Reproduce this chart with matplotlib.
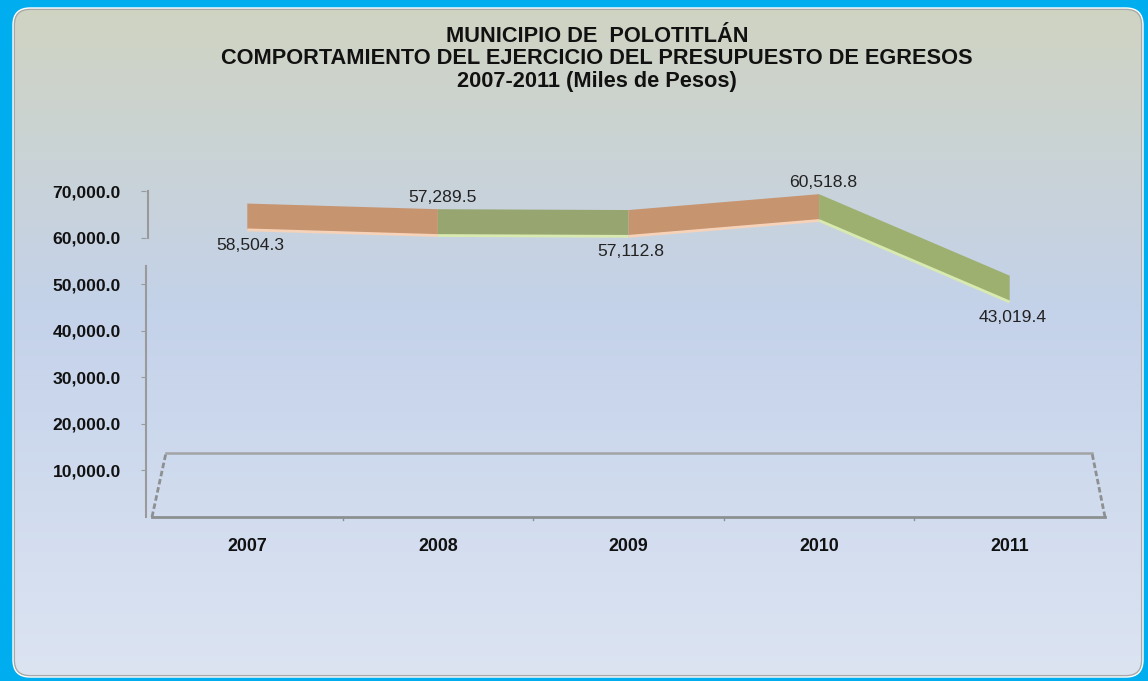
import numpy as np
import matplotlib
matplotlib.use("Agg")
import matplotlib.pyplot as plt
from matplotlib.patches import FancyBboxPatch, Polygon
from matplotlib.colors import LinearSegmentedColormap

# ---------------- data ----------------
years = ["2007", "2008", "2009", "2010", "2011"]
values = [58504.3, 57289.5, 57112.8, 60518.8, 43019.4]
value_labels = ["58,504.3", "57,289.5", "57,112.8", "60,518.8", "43,019.4"]
yticks = [10000, 20000, 30000, 40000, 50000, 60000, 70000]
ytick_labels = ["10,000.0", "20,000.0", "30,000.0", "40,000.0", "50,000.0", "60,000.0", "70,000.0"]
title_lines = ["MUNICIPIO DE  POLOTITLÁN",
               "COMPORTAMIENTO DEL EJERCICIO DEL PRESUPUESTO DE EGRESOS",
               "2007-2011 (Miles de Pesos)"]
segment_colors = ["#C79470", "#97A670", "#C79470", "#9DB070"]
edge_colors = ["#F6D2B8", "#D8EAB0", "#F6D2B8", "#D8EAB0"]
label_above = [False, True, False, True, False]

plt.rcParams['font.family'] = ['Liberation Sans', 'DejaVu Sans']

W, H = 1148, 681
fig = plt.figure(figsize=(W / 100, H / 100), dpi=100)
fig.patch.set_facecolor("#00AEEF")

# background panel with gradient
bg = fig.add_axes([0, 0, 1, 1], zorder=0)
bg.set_xlim(0, W)
bg.set_ylim(H, 0)
bg.axis("off")
x0, y0, x1, y1 = 14, 9, 1142, 676
cmap = LinearSegmentedColormap.from_list("bg", [(0, "#D0D4C2"), (0.45, "#C4D2EA"), (1, "#DCE4F2")])
grad = np.linspace(0, 1, 256).reshape(-1, 1)
im = bg.imshow(grad, cmap=cmap, extent=[x0, x1, y1, y0], aspect="auto", zorder=1)
panel = FancyBboxPatch((x0, y0), x1 - x0, y1 - y0, boxstyle="round,pad=0,rounding_size=16",
                       facecolor="none", edgecolor="#A8A8A8", lw=1.5, zorder=2)
bg.add_patch(panel)
im.set_clip_path(panel)
white = FancyBboxPatch((x0 - 1, y0 - 1), x1 - x0 + 2, y1 - y0 + 2, boxstyle="round,pad=0,rounding_size=17",
                       facecolor="none", edgecolor="white", lw=1.0, zorder=2)
bg.add_patch(white)

# title
for i, t in enumerate(title_lines):
    fig.text(597 / W, 1 - (36 + 22.5 * i) / H, t, ha="center", va="center",
             fontsize=15.7, fontweight="bold", color="#111111")

# main axes (pixel box: x 152..1105, y 191..517)
L, R, T, B = 152, 1105, 191, 517
ax = fig.add_axes([L / W, 1 - B / H, (R - L) / W, (B - T) / H], zorder=2)
ax.set_facecolor("none")
ax.set_xlim(-0.5, len(years) - 0.5)
ax.set_ylim(0, 70000)
for s in ["top", "right", "bottom"]:
    ax.spines[s].set_visible(False)
ax.spines["left"].set_position(("outward", 4))
ax.spines["left"].set_color("#9A9A9A")
ax.spines["left"].set_linewidth(1.5)
ax.spines["left"].set_bounds(0, 54000)
ax.plot([-0.5 - 4 / 190.6, -0.5 - 4 / 190.6], [60000, 70000], color="#9A9A9A", lw=1.5,
        clip_on=False, zorder=3)
ax.set_yticks(yticks)
ax.set_yticklabels(ytick_labels, fontsize=12.6, fontweight="bold", color="#111111")
ax.tick_params(axis="y", length=3.5, color="#9A9A9A", pad=15)
ax.set_xticks(range(len(years)))
ax.set_xticklabels(years, fontsize=12.8, fontweight="bold", color="#111111")
ax.tick_params(axis="x", length=0, pad=15)

# 3D floor decoration
floor_back = 13700
ax.plot([-0.5, 4.5], [0, 0], color="#8C9090", lw=2, clip_on=False, zorder=3)
for xb in [0.5, 1.5, 2.5, 3.5]:
    ax.plot([xb, xb], [0, -700], color="#8C9090", lw=1, clip_on=False, zorder=3)
ax.plot([-0.427, 4.432], [floor_back, floor_back], color="#A0A4A4", lw=1.8, zorder=3)
ax.plot([-0.5, -0.427], [0, floor_back], color="#8C9090", lw=2, ls=(0, (2, 1)), zorder=3, clip_on=False)
ax.plot([4.5, 4.432], [0, floor_back], color="#8C9090", lw=2, ls=(0, (2, 1)), zorder=3, clip_on=False)

# ribbon
front_off = 3300
depth = 5500
xs = np.arange(len(years))
for i in range(len(years) - 1):
    xa, xb = xs[i], xs[i + 1]
    va, vb = values[i], values[i + 1]
    poly = Polygon([[xa, va + front_off], [xb, vb + front_off],
                    [xb, vb + front_off + depth], [xa, va + front_off + depth]],
                   closed=True, facecolor=segment_colors[i], edgecolor="none", zorder=4)
    ax.add_patch(poly)
    ax.plot([xa, xb], [va + front_off - 150, vb + front_off - 150], color=edge_colors[i],
            lw=2, zorder=5, solid_capstyle="butt")

# value labels
for i, (x, v) in enumerate(zip(xs, values)):
    if label_above[i]:
        ax.annotate(value_labels[i], (x, v + front_off + depth), xytext=(3, 3),
                    textcoords="offset points", ha="center", va="bottom",
                    fontsize=12.6, color="#222222", zorder=6)
    else:
        ax.annotate(value_labels[i], (x, v + front_off), xytext=(2, -6),
                    textcoords="offset points", ha="center", va="top",
                    fontsize=12.6, color="#222222", zorder=6)

fig.savefig("out.png", dpi=100, facecolor=fig.get_facecolor())
